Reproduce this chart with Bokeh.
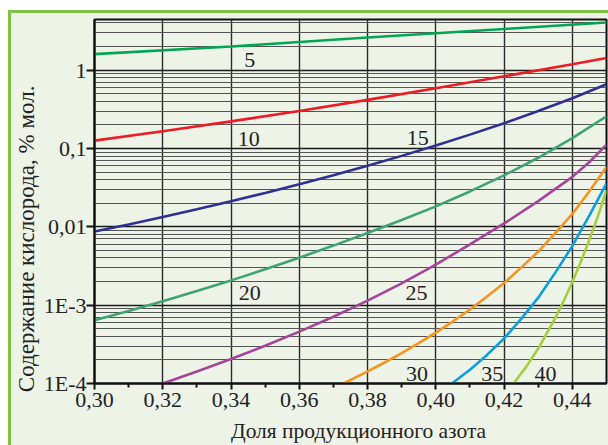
from bokeh.plotting import figure
from bokeh.models import Range1d, FixedTicker, ColumnDataSource, Div
from bokeh.layouts import column
from bokeh.embed import file_html
from bokeh.resources import INLINE
from bokeh.core.properties import value

# Axis ticks and their labels
x_ticks = [0.30, 0.32, 0.34, 0.36, 0.38, 0.40, 0.42, 0.44]
x_tick_labels = ["0,30", "0,32", "0,34", "0,36", "0,38", "0,40", "0,42", "0,44"]
y_ticks = [1e-4, 1e-3, 1e-2, 1e-1, 1.0]
y_tick_labels = ["1E-4", "1E-3", "0,01", "0,1", "1"]

# Oxygen content (% mol.) vs. product nitrogen fraction, one curve per parameter value
x_5 = [0.30, 0.34, 0.38, 0.42, 0.45]
y_5 = [1.6, 2.0, 2.6, 3.35, 4.05]

x_10 = [0.30, 0.32, 0.34, 0.36, 0.38, 0.40, 0.42, 0.44, 0.45]
y_10 = [0.1259, 0.1660, 0.2213, 0.3006, 0.4169, 0.5861, 0.8318, 1.189, 1.429]

x_15 = [0.30, 0.31, 0.32, 0.33, 0.34, 0.35, 0.36, 0.37, 0.38, 0.39, 0.40, 0.41, 0.42, 0.43, 0.44, 0.45]
y_15 = [8.71e-3, 0.01072, 0.01334, 0.01671, 0.02113, 0.02704, 0.03491, 0.04560,
        0.06012, 0.08035, 0.1089, 0.1500, 0.2099, 0.3006, 0.4365, 0.6607]

x_20 = [0.30, 0.31, 0.32, 0.33, 0.34, 0.35, 0.36, 0.37, 0.38, 0.39, 0.40, 0.41, 0.42, 0.43, 0.44, 0.45]
y_20 = [6.40e-4, 8.41e-4, 1.125e-3, 1.514e-3, 2.070e-3, 2.864e-3, 4.036e-3, 5.754e-3,
        8.337e-3, 0.01219, 0.01824, 0.02825, 0.04529, 0.07603, 0.1352, 0.2576]

x_25 = [0.32, 0.33, 0.34, 0.35, 0.36, 0.37, 0.38, 0.39, 0.40, 0.41, 0.42, 0.43, 0.44, 0.445, 0.45]
y_25 = [1e-4, 1.419e-4, 2.051e-4, 3.034e-4, 4.592e-4, 7.112e-4, 1.140e-3, 1.892e-3,
        3.289e-3, 5.98e-3, 0.01102, 0.02123, 0.04335, 0.06714, 0.1114]

x_30 = [0.373, 0.38, 0.385, 0.39, 0.395, 0.40, 0.405, 0.41, 0.415, 0.42,
        0.425, 0.43, 0.435, 0.44, 0.445, 0.45]
y_30 = [1e-4, 1.426e-4, 1.854e-4, 2.449e-4, 3.281e-4, 4.457e-4, 6.22e-4, 8.79e-4,
        1.288e-3, 1.923e-3, 3.013e-3, 4.83e-3, 8.30e-3, 0.01459, 0.02844, 0.05808]

x_35 = [0.4047, 0.41, 0.415, 0.42, 0.425, 0.43, 0.435, 0.44, 0.445, 0.45]
y_35 = [1e-4, 1.496e-4, 2.317e-4, 3.758e-4, 6.683e-4, 1.245e-3, 2.600e-3, 5.69e-3, 0.01396, 0.03589]

x_40 = [0.4228, 0.4265, 0.43, 0.435, 0.4375, 0.44, 0.4425, 0.445, 0.4475, 0.45]
y_40 = [1e-4, 1.641e-4, 2.793e-4, 6.855e-4, 1.138e-3, 1.977e-3, 3.597e-3, 6.855e-3, 0.01368, 0.02924]

curve_names = ["5", "10", "15", "20", "25", "30", "35", "40"]

FONT = "Liberation Serif"
TEXT = "#222222"
BG = "#EEF3E8"
FRAME_GREEN = "#7DC242"

p = figure(
    width=608, height=445,
    x_range=Range1d(0.30, 0.45), y_range=Range1d(1e-4, 4.42),
    y_axis_type="log",
    output_backend="svg", toolbar_location=None,
    min_border_left=94, min_border_right=2, min_border_top=19, min_border_bottom=59,
    background_fill_color=BG, border_fill_color=BG,
)
p.outline_line_color = "#111111"
p.outline_line_width = 2

# Log grid: every 1..9 step per decade
y_minor = [m * 10.0 ** e for e in range(-4, 1) for m in range(2, 10) if m * 10.0 ** e < 4.42]
p.yaxis.ticker = FixedTicker(ticks=y_ticks, minor_ticks=y_minor)
p.yaxis.major_label_overrides = dict(zip(y_ticks, y_tick_labels))
p.xaxis.ticker = FixedTicker(ticks=x_ticks, minor_ticks=[0.31, 0.33, 0.35, 0.37, 0.39, 0.41, 0.43])
p.xaxis.major_label_overrides = dict(zip(x_ticks, x_tick_labels))

p.ygrid.grid_line_color = "#1a1a1a"
p.ygrid.grid_line_width = 1.3
p.ygrid.minor_grid_line_color = "#555555"
p.ygrid.minor_grid_line_width = 1.2
p.xgrid.ticker = FixedTicker(ticks=x_ticks[1:])
p.xgrid.grid_line_color = "#2a2a2a"
p.xgrid.grid_line_width = 1.4

for ax in (p.xaxis[0], p.yaxis[0]):
    ax.axis_line_color = "#111111"
    ax.axis_line_width = 2
    ax.major_tick_line_color = "#111111"
    ax.major_tick_line_width = 2
    ax.major_tick_in = 0
    ax.minor_tick_in = 0
    ax.major_label_text_font = FONT
    ax.major_label_text_font_size = "22px"
    ax.major_label_text_color = TEXT
    ax.axis_label_text_font = FONT
    ax.axis_label_text_font_style = "normal"
    ax.axis_label_text_color = TEXT

p.xaxis.major_tick_out = 6
p.xaxis.minor_tick_out = 4
p.xaxis.minor_tick_line_color = "#111111"
p.xaxis.minor_tick_line_width = 2
p.xaxis.major_label_standoff = 3
# leading no-break spaces nudge the centred title slightly to the right
p.xaxis.axis_label = "\u00a0" * 3 + "Доля продукционного азота"
p.xaxis.axis_label_text_font_size = "21.5px"
p.xaxis.axis_label_standoff = 9

p.yaxis.major_tick_out = 8
p.yaxis.minor_tick_line_color = None
p.yaxis.major_label_standoff = 0
# trailing no-break spaces move the centred title toward the bottom
p.yaxis.axis_label = "Содержание кислорода, % мол." + "\u00a0" * 13
p.yaxis.axis_label_text_font_size = "23px"
p.yaxis.axis_label_standoff = 2

series = [
    (x_5, y_5, "#00A651"),
    (x_10, y_10, "#ED1C24"),
    (x_15, y_15, "#2E3192"),
    (x_20, y_20, "#3DA574"),
    (x_25, y_25, "#A6449A"),
    (x_30, y_30, "#F7941D"),
    (x_35, y_35, "#0A9FDD"),
    (x_40, y_40, "#A6CE39"),
]
for xs, ys, color in series:
    p.line(xs, ys, line_color=color, line_width=2.6)

# Curve captions
label_src = ColumnDataSource(dict(
    x=[0.3455, 0.3452, 0.3947, 0.3455, 0.3943, 0.3945, 0.4165, 0.4321],
    y=[1.34, 0.133, 0.136, 1.42e-3, 1.42e-3, 1.34e-4, 1.34e-4, 1.34e-4],
    text=curve_names,
))
p.text(x="x", y="y", text="text", source=label_src,
       text_font=value(FONT), text_font_size="22px", text_color=TEXT,
       text_align="center", text_baseline="middle")

# White page margin and green frame around the panel
frame_html = (
    "<div style='position:fixed;left:0;top:0;width:608px;height:10px;background:#ffffff'></div>"
    "<div style='position:fixed;left:0;top:0;width:8px;height:445px;background:#ffffff'></div>"
    f"<div style='position:fixed;left:8px;top:10px;width:600px;height:3px;background:{FRAME_GREEN}'></div>"
    f"<div style='position:fixed;left:8px;top:10px;width:3px;height:435px;background:{FRAME_GREEN}'></div>"
)
frame = Div(text=frame_html, width=0, height=0)

layout = column(p, frame)
open("out.html", "w").write(file_html(layout, INLINE))
